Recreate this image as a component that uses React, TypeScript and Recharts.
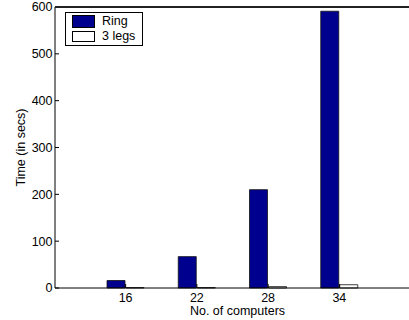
import * as React from "react"
import { Bar, BarChart, Label, XAxis, YAxis } from "recharts"

const computers = ["16", "22", "28", "34"]
const ringTimes = [16, 67, 210, 591]
const threeLegTimes = [1, 1, 3, 7]
const yTicks = [0, 100, 200, 300, 400, 500, 600]
const yMax = 600

const seriesNames = { ring: "Ring", legs: "3 legs" }
const ringColor = "#00008f"
const font = "'Liberation Sans', Arial, Helvetica, sans-serif"

const data = computers.map((c, i) => ({
  computers: c,
  ring: ringTimes[i],
  legs: threeLegTimes[i],
}))

const tickStyle = { fontSize: 12.5, fill: "#000", fontFamily: font }

function XTitle(props: any) {
  const vb = props.viewBox || {}
  return (
    <text
      x={vb.x + vb.width / 2 + 5}
      y={vb.y + 27}
      textAnchor="middle"
      fontSize={12.5}
      fontFamily={font}
      fill="#000"
    >
      No. of computers
    </text>
  )
}

function YTitle(props: any) {
  const vb = props.viewBox || {}
  const cx = 25
  const cy = vb.y + vb.height / 2
  return (
    <text
      x={cx}
      y={cy}
      transform={`rotate(-90 ${cx} ${cy})`}
      textAnchor="middle"
      fontSize={12.5}
      fontFamily={font}
      fill="#000"
    >
      Time (in secs)
    </text>
  )
}

function LegendBox() {
  const row = (color: string, name: string, h: number) => (
    <div style={{ display: "flex", alignItems: "center", height: 15 }}>
      <div
        style={{
          width: 21,
          height: h,
          background: color,
          border: "1px solid #000",
          marginLeft: 6,
          marginRight: 7,
        }}
      />
      <span style={{ fontSize: 12.5, fontFamily: font, lineHeight: "15px" }}>{name}</span>
    </div>
  )
  return (
    <div
      style={{
        position: "absolute",
        left: 65,
        top: 12,
        width: 76,
        height: 31,
        border: "1px solid #000",
        background: "#fff",
        paddingTop: 1,
        boxSizing: "content-box",
      }}
    >
      {row(ringColor, seriesNames.ring, 11)}
      {row("#fff", seriesNames.legs, 9)}
    </div>
  )
}

export default function App() {
  return (
    <div style={{ position: "absolute", left: 0, top: 0, width: 409, height: 320, overflow: "hidden", background: "#fff" }}>
      <BarChart
        width={411}
        height={320}
        data={data}
        margin={{ top: 7, right: 1, bottom: 0, left: 0 }}
        barSize={18}
        barGap={1}
      >
        <XAxis
          dataKey="computers"
          height={32}
          padding={{ left: 35, right: 35 }}
          axisLine={{ stroke: "#000" }}
          tickLine={{ stroke: "#000" }}
          tickSize={-4}
          tickMargin={9}
          tick={tickStyle}
          interval={0}
        >
          <Label content={<XTitle />} />
        </XAxis>
        <YAxis
          width={55}
          domain={[0, yMax]}
          ticks={yTicks}
          axisLine={{ stroke: "#000" }}
          tickLine={{ stroke: "#000" }}
          tickSize={-4}
          tickMargin={6.5}
          tick={tickStyle}
          interval={0}
        >
          <Label content={<YTitle />} />
        </YAxis>
        <YAxis
          yAxisId="right"
          orientation="right"
          width={0}
          domain={[0, yMax]}
          ticks={yTicks}
          axisLine={{ stroke: "#000" }}
          tickLine={{ stroke: "#000" }}
          tickSize={-4}
          tick={false}
          interval={0}
        />
        <Bar dataKey="ring" name={seriesNames.ring} fill={ringColor} stroke="#111" strokeWidth={0.8} isAnimationActive={false} />
        <Bar dataKey="legs" name={seriesNames.legs} fill="#fff" stroke="#111" strokeWidth={0.8} isAnimationActive={false} />
      </BarChart>
      {/* top edge of the axes box */}
      <div
        style={{
          position: "absolute",
          left: 55,
          top: 6,
          width: 356,
          height: 0,
          borderTop: "2px solid #222",
          zIndex: 5,
        }}
      />
      <LegendBox />
    </div>
  )
}
